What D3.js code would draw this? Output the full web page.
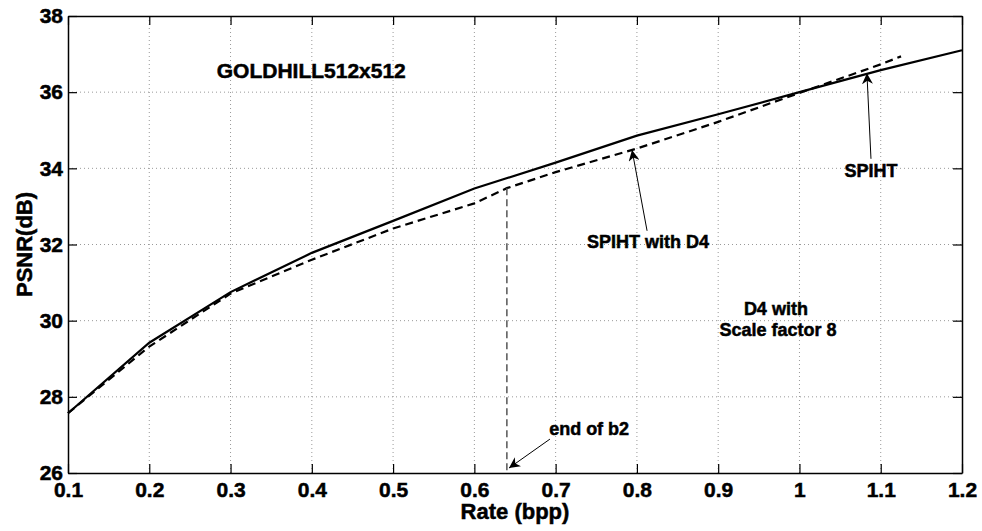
<!DOCTYPE html>
<html>
<head>
<meta charset="utf-8">
<script src="https://cdn.jsdelivr.net/npm/d3@7"></script>
<style>
  body { margin: 0; background: #fff; overflow: hidden; }
  svg { display: block; }
  text { font-family: "Liberation Sans", Arial, sans-serif; font-weight: bold; fill: #000; stroke: #000; stroke-width: 0.5px; }
</style>
</head>
<body>
<div id="chart"></div>
<script>
// data
const rateSpiht = [0.1, 0.2, 0.3, 0.4, 0.5, 0.6, 0.7, 0.8, 0.9, 1.0, 1.1, 1.2];
const psnrSpiht = [27.57, 29.42, 30.75, 31.78, 32.62, 33.47, 34.15, 34.86, 35.42, 36.0, 36.58, 37.1];

const rateD4 = [0.1, 0.2, 0.3, 0.4, 0.5, 0.6, 0.64, 0.7, 0.8, 0.9, 1.0, 1.1, 1.125];
const psnrD4 = [27.57, 29.32, 30.71, 31.6, 32.42, 33.08, 33.48, 33.9, 34.52, 35.22, 35.98, 36.73, 36.94];

const xTicks = [0.1, 0.2, 0.3, 0.4, 0.5, 0.6, 0.7, 0.8, 0.9, 1, 1.1, 1.2];
const yTicks = [26, 28, 30, 32, 34, 36, 38];

const endOfB2 = 0.64;

const width = 982, height = 531;
const margin = { top: 16, right: 20, bottom: 58, left: 68 };
const innerWidth = width - margin.left - margin.right;
const innerHeight = height - margin.top - margin.bottom;

const svg = d3.select("#chart")
  .append("svg")
  .attr("width", width)
  .attr("height", height);

const chart = svg.append("g")
  .attr("transform", `translate(${margin.left},${margin.top})`);

// scales
const x = d3.scaleLinear().domain([0.1, 1.2]).range([0, innerWidth]);
const y = d3.scaleLinear().domain([26, 38]).range([innerHeight, 0]);

// grid
chart.append("g")
  .selectAll("line")
  .data(xTicks.slice(1, -1))
  .join("line")
  .attr("x1", d => x(d)).attr("x2", d => x(d))
  .attr("y1", 0).attr("y2", innerHeight)
  .attr("stroke", "#999")
  .attr("stroke-dasharray", "1,3");

chart.append("g")
  .selectAll("line")
  .data(yTicks.slice(1, -1))
  .join("line")
  .attr("x1", 0).attr("x2", innerWidth)
  .attr("y1", d => y(d)).attr("y2", d => y(d))
  .attr("stroke", "#999")
  .attr("stroke-dasharray", "1,3");

// axes, ticks pointing inward
const styleAxis = g => {
  g.attr("font-size", null).attr("font-family", null);
  g.select(".domain").attr("stroke-width", 1.5);
  g.selectAll(".tick line").attr("stroke-width", 1.2);
  g.selectAll(".tick text")
    .style("font-size", "21px")
    .attr("fill", "#000");
};

chart.append("g")
  .attr("transform", `translate(0,${innerHeight})`)
  .call(d3.axisBottom(x).tickValues(xTicks).tickFormat(d3.format("")).tickSizeInner(-9).tickSizeOuter(0).tickPadding(9))
  .call(styleAxis);

chart.append("g")
  .call(d3.axisLeft(y).tickValues(yTicks).tickSizeInner(-9).tickSizeOuter(0).tickPadding(5))
  .call(styleAxis);

chart.append("g")
  .call(d3.axisTop(x).tickValues(xTicks).tickFormat("").tickSizeInner(-9).tickSizeOuter(0))
  .call(styleAxis);

chart.append("g")
  .attr("transform", `translate(${innerWidth},0)`)
  .call(d3.axisRight(y).tickValues(yTicks).tickFormat("").tickSizeInner(-9).tickSizeOuter(0))
  .call(styleAxis);

// axis labels
chart.append("text")
  .attr("x", innerWidth / 2)
  .attr("y", innerHeight + 46)
  .attr("text-anchor", "middle")
  .style("font-size", "22px")
  .text("Rate (bpp)");

chart.append("text")
  .attr("transform", `translate(${-36},${innerHeight / 2}) rotate(-90)`)
  .attr("text-anchor", "middle")
  .style("font-size", "22px")
  .text("PSNR(dB)");

// curves
const line = d3.line().x(d => x(d[0])).y(d => y(d[1]));

chart.append("path")
  .datum(d3.zip(rateSpiht, psnrSpiht))
  .attr("d", line)
  .attr("fill", "none")
  .attr("stroke", "#000")
  .attr("stroke-width", 2.2);

chart.append("path")
  .datum(d3.zip(rateD4, psnrD4))
  .attr("d", line)
  .attr("fill", "none")
  .attr("stroke", "#000")
  .attr("stroke-width", 2.2)
  .attr("stroke-dasharray", "8,5");

// end of b2 marker
chart.append("line")
  .attr("x1", x(endOfB2)).attr("x2", x(endOfB2))
  .attr("y1", y(psnrD4[rateD4.indexOf(endOfB2)])).attr("y2", y(26.05))
  .attr("stroke", "#555")
  .attr("stroke-width", 1.5)
  .attr("stroke-dasharray", "7,4");

// arrow head
svg.append("defs").append("marker")
  .attr("id", "arrow")
  .attr("viewBox", "0 0 10 10")
  .attr("refX", 10).attr("refY", 5)
  .attr("markerWidth", 11).attr("markerHeight", 11)
  .attr("markerUnits", "userSpaceOnUse")
  .attr("orient", "auto")
  .append("path")
  .attr("d", "M0,0 L10,5 L0,10 L3,5 Z")
  .attr("fill", "#000");

const arrow = (x1, y1, x2, y2) => {
  chart.append("line")
    .attr("x1", x(x1)).attr("y1", y(y1))
    .attr("x2", x(x2)).attr("y2", y(y2))
    .attr("stroke", "#000")
    .attr("stroke-width", 1)
    .attr("marker-end", "url(#arrow)");
};

// annotations
chart.append("text")
  .attr("x", x(0.283)).attr("y", y(36.37))
  .style("font-size", "21px")
  .text("GOLDHILL512x512");

chart.append("text")
  .attr("x", x(1.088)).attr("y", y(33.77))
  .attr("text-anchor", "middle")
  .style("font-size", "18px")
  .text("SPIHT");
arrow(1.088, 34.25, 1.083, 36.5);

chart.append("text")
  .attr("x", x(0.7386)).attr("y", y(31.91))
  .style("font-size", "18px")
  .text("SPIHT with D4");
arrow(0.8125, 32.36, 0.794, 34.48);

chart.append("text")
  .attr("x", x(0.971)).attr("y", y(30.15))
  .attr("text-anchor", "middle")
  .style("font-size", "18px")
  .text("D4 with");
chart.append("text")
  .attr("x", x(0.9736)).attr("y", y(29.6))
  .attr("text-anchor", "middle")
  .style("font-size", "18px")
  .text("Scale factor 8");

chart.append("text")
  .attr("x", x(0.692)).attr("y", y(27.0))
  .style("font-size", "18px")
  .text("end of b2");
arrow(0.693, 26.89, 0.6426, 26.13);
</script>
</body>
</html>
